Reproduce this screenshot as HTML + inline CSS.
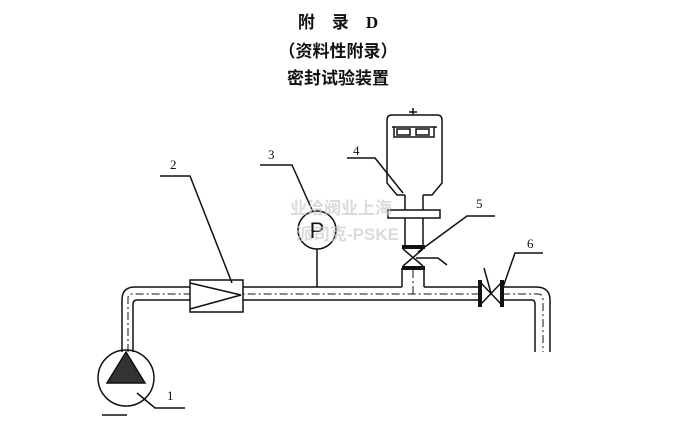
<!DOCTYPE html>
<html><head><meta charset="utf-8"><style>
html,body{margin:0;padding:0;background:#fff;}
body{width:676px;height:424px;position:relative;overflow:hidden;font-family:"Liberation Serif","Noto Serif CJK SC",serif;}
.t{position:absolute;left:0;width:676px;text-align:center;font-weight:bold;font-size:17px;color:#111;font-family:"Liberation Serif","Noto Sans CJK SC",sans-serif;}
</style></head><body>
<div class="t" style="top:8px;">附&nbsp;&nbsp;&nbsp;&nbsp;录&nbsp;&nbsp;&nbsp;&nbsp;D</div>
<div class="t" style="top:37px;">（资料性附录）</div>
<div class="t" style="top:64px;">密封试验装置</div>
<svg width="676" height="424" style="position:absolute;left:0;top:0" fill="none" stroke="#111" stroke-width="1.5">
<!-- pipe -->
<path d="M122 352 V300 Q122 287 135 287 H190 M243 287 H402 M424 287 H480 M502 287 H536 Q550 287 550 300 V352"/>
<path d="M133 352 V304 Q133 300 137 300 H190 M243 300 H480 M502 300 H532 Q535 300 535 304 V352"/>
<path d="M402 287 V268 M424 287 V268"/>
<g stroke-dasharray="8 3 2 3" stroke-width="1">
<path d="M128 352 V298 Q128 294 132 294 H480 M502 294 H538 Q543 294 543 300 V352"/>
<path d="M413 294 V268"/>
</g>
<!-- flowmeter -->
<rect x="190" y="280" width="53" height="32" fill="#fff"/>
<path d="M190 283 L241 295 L190 309"/>
<!-- pump -->
<circle cx="126" cy="378" r="28"/>
<path d="M126 352 L107 383 H145 Z" fill="#333"/>
<path d="M102 415 H127"/>
<path d="M137 393 L155 408 H185"/>
<!-- gauge -->
<circle cx="317" cy="230" r="19"/>
<text x="317" y="238" font-size="22" fill="#111" stroke="none" text-anchor="middle" font-family="Liberation Sans">P</text>
<path d="M317 249 V287"/>
<path d="M260 165 H292 L313 212"/>
<!-- label 2 -->
<path d="M160 176 H190 L232 283"/>
<!-- actuator -->
<path d="M387 120 Q387 115 392 115 H437 Q442 115 442 120 V183 L432 195 H423 M387 120 V183 L397 195 H405"/>
<path d="M392 127 H437 M394 127 V137 H434 V127"/>
<rect x="397" y="129" width="13" height="6"/><rect x="416" y="129" width="13" height="6"/>
<path d="M413 108 V115 M409 112 H417"/>
<path d="M405 195 V210 M423 195 V210"/>
<rect x="388" y="210" width="52" height="8" fill="#fff"/>
<path d="M405 218 V247 M423 218 V247"/>
<path d="M402 247 H425 M402 268 H425" stroke-width="4"/>
<path d="M403 249 L423 266 M423 249 L403 266"/>
<path d="M416 258 H438 L447 265"/>
<path d="M347 158 H375 L403 193"/>
<path d="M495 216 H467 L418 252"/>
<!-- valve 6 -->
<path d="M480 280 V307 M502 280 V307" stroke-width="4"/>
<path d="M481 283 L501 304 M501 283 L481 304"/>
<path d="M491 293 L484 268"/>
<path d="M543 253 H515 L502 290"/>
<g fill="#111" stroke="none" font-size="13" font-family="Liberation Serif">
<text x="167" y="400">1</text><text x="170" y="169">2</text><text x="268" y="159">3</text>
<text x="353" y="155">4</text><text x="476" y="208">5</text><text x="527" y="248">6</text>
</g>
<g fill="#ccc" stroke="none" font-size="17" font-weight="bold" font-family="Liberation Sans,Noto Sans CJK SC,sans-serif" opacity="0.7">
<text x="290" y="214">业洽阀业上海</text><text x="296" y="240">派司克-PSKE</text>
</g>
</svg>
</body></html>
